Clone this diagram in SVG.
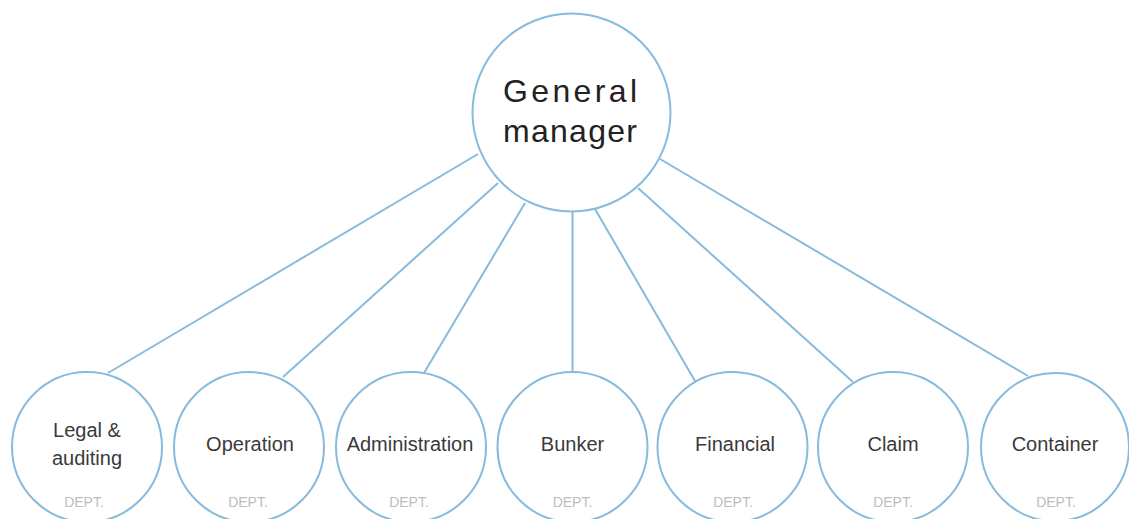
<svg xmlns="http://www.w3.org/2000/svg" width="1129" height="519" viewBox="0 0 1129 519">
  <style>
    .node { fill: #ffffff; stroke: #86bbdd; stroke-width: 2; }
    .link { stroke: #86bbdd; stroke-width: 2; fill: none; }
    .title { font-family: "Liberation Sans", Arial, sans-serif; font-size: 32px; fill: #222222; text-anchor: middle; }
    .label { font-family: "Liberation Sans", Arial, sans-serif; font-size: 20px; fill: #3a3a3a; text-anchor: middle; }
    .dept { font-family: "Liberation Sans", Arial, sans-serif; font-size: 14px; fill: #bdbdbd; text-anchor: middle; }
  </style>
  <rect width="1129" height="519" fill="#ffffff"/>

  <!-- connectors from the manager to each department -->
  <g id="connectors">
    <line class="link" x1="478" y1="154" x2="108" y2="373"/>
    <line class="link" x1="498" y1="183" x2="283" y2="377"/>
    <line class="link" x1="525" y1="203" x2="424" y2="373"/>
    <line class="link" x1="572.5" y1="211" x2="572.5" y2="371"/>
    <line class="link" x1="595" y1="209" x2="695" y2="381"/>
    <line class="link" x1="638" y1="188" x2="853" y2="382"/>
    <line class="link" x1="660" y1="159" x2="1028" y2="376"/>
  </g>

  <g id="general-manager">
    <circle class="node" cx="571.5" cy="112.5" r="99"/>
    <text class="title" x="570" y="102" textLength="134" lengthAdjust="spacing">General</text>
    <text class="title" x="570" y="142" textLength="134" lengthAdjust="spacing">manager</text>
  </g>

  <g id="legal-auditing">
    <circle class="node" cx="87" cy="447" r="75"/>
    <text class="label" x="87" y="437">Legal &amp;</text>
    <text class="label" x="87" y="465">auditing</text>
    <text class="dept" x="84" y="507">DEPT.</text>
  </g>

  <g id="operation">
    <circle class="node" cx="249" cy="447" r="75"/>
    <text class="label" x="250" y="451">Operation</text>
    <text class="dept" x="248" y="507">DEPT.</text>
  </g>

  <g id="administration">
    <circle class="node" cx="411" cy="447" r="75"/>
    <text class="label" x="410" y="451">Administration</text>
    <text class="dept" x="409" y="507">DEPT.</text>
  </g>

  <g id="bunker">
    <circle class="node" cx="572.5" cy="447" r="75"/>
    <text class="label" x="572.5" y="451">Bunker</text>
    <text class="dept" x="572.5" y="507">DEPT.</text>
  </g>

  <g id="financial">
    <circle class="node" cx="732.5" cy="447" r="75"/>
    <text class="label" x="735" y="451">Financial</text>
    <text class="dept" x="733" y="507">DEPT.</text>
  </g>

  <g id="claim">
    <circle class="node" cx="893" cy="447" r="75"/>
    <text class="label" x="893" y="451">Claim</text>
    <text class="dept" x="893" y="507">DEPT.</text>
  </g>

  <g id="container">
    <circle class="node" cx="1055" cy="447" r="74"/>
    <text class="label" x="1055" y="451">Container</text>
    <text class="dept" x="1056" y="507">DEPT.</text>
  </g>
</svg>
